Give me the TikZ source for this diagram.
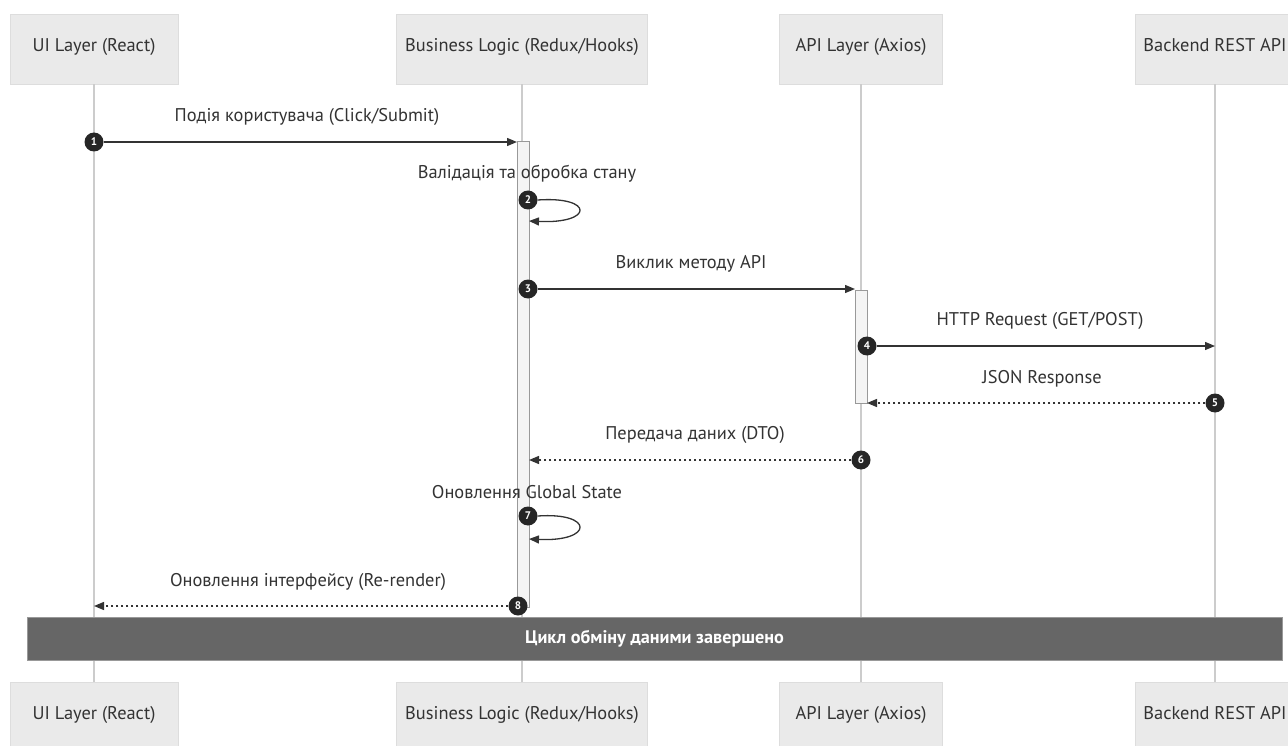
\documentclass[tikz,border=0pt]{standalone}
\usepackage{fontspec}
\setmainfont{PT Sans}
\usetikzlibrary{arrows.meta}
\definecolor{txt}{HTML}{333333}
\definecolor{actfill}{HTML}{EAEAEA}
\definecolor{actline}{HTML}{DDDDDD}
\definecolor{lifel}{HTML}{CCCCCC}
\definecolor{notefill}{HTML}{666666}
\definecolor{notebord}{HTML}{999999}
\definecolor{actbox}{HTML}{F4F4F4}
\begin{document}
\begin{tikzpicture}[x=1pt,y=-1pt,
  actor/.style={draw=actline, fill=actfill, minimum height=70pt, inner sep=0pt,
    font=\fontsize{18.4}{20}\selectfont, text=txt, text height=0.75em, text depth=0.22em},
  lifeline/.style={draw=lifel, line width=1.2pt},
  msg/.style={draw=txt, line width=1.3pt, -{Triangle[length=10pt,width=8pt]}},
  reply/.style={msg, dash pattern=on 2.5pt off 2.5pt},
  num/.style={circle, fill=black!85, minimum size=19pt, inner sep=0pt,
    text=white, font=\fontsize{11}{11}\selectfont\bfseries},
  lbl/.style={text=txt, font=\fontsize{18.4}{20}\selectfont, inner sep=0pt},
  activ/.style={draw=notebord, fill=actbox, line width=1pt},
  notebox/.style={draw=notebord, fill=notefill, text=white, line width=1pt,
    minimum width=1255pt, minimum height=43pt, inner sep=0pt,
    font=\fontsize{18.2}{19}\selectfont\bfseries}
]
\useasboundingbox (0,0) rectangle (1288,746);
\fill[white] (0,0) rectangle (1288,746);

% actors
\node[actor, minimum width=168pt] (a1) at (94,49) {UI Layer (React)};
\node[actor, minimum width=251pt] (a2) at (522,49) {Business Logic (Redux/Hooks)};
\node[actor, minimum width=163pt] (a3) at (861,49) {API Layer (Axios)};
\node[actor, minimum width=160pt] (a4) at (1215,49) {Backend REST API};
\node[actor, minimum width=168pt] (b1) at (94,717) {UI Layer (React)};
\node[actor, minimum width=251pt] (b2) at (522,717) {Business Logic (Redux/Hooks)};
\node[actor, minimum width=163pt] (b3) at (861,717) {API Layer (Axios)};
\node[actor, minimum width=160pt] (b4) at (1215,717) {Backend REST API};

% lifelines
\foreach \i in {1,2,3,4} \draw[lifeline] (a\i.south) -- (b\i.north);

% activations
\draw[activ] (517,142) rectangle (529,607);
\draw[activ] (855,290) rectangle (867,403);

% message end points
\coordinate (e1) at (517,142);
\coordinate (e2) at (529,221);
\coordinate (e3) at (855,289);
\coordinate (e4) at (1215,346);
\coordinate (e5) at (867,403);
\coordinate (e6) at (529,460);
\coordinate (e7) at (529,539);
\coordinate (e8) at (94,606);

% numbers
\node[num] (n1) at (94,142) {1};
\node[num] (n2) at (528,200) {2};
\node[num] (n3) at (528,289) {3};
\node[num] (n4) at (867,346) {4};
\node[num] (n5) at (1215,403) {5};
\node[num] (n6) at (861,460) {6};
\node[num] (n7) at (528,516) {7};
\node[num] (n8) at (518,606) {8};

% messages
\draw[msg] (n1) -- (e1);
\draw[msg] (n2.east) .. controls (594,196) and (594,224) .. (e2);
\draw[msg] (n3) -- (e3);
\draw[msg] (n4) -- (e4);
\draw[reply] (n5) -- (e5);
\draw[reply] (n6) -- (e6);
\draw[msg] (n7.east) .. controls (594,512) and (594,542) .. (e7);
\draw[reply] (n8) -- (e8);

% labels
\node[lbl] (l1) at (307,117) {Подія користувача (Click/Submit)};
\node[lbl] (l2) at (527,174) {Валідація та обробка стану};
\node[lbl] (l3) at (691,264) {Виклик методу API};
\node[lbl] (l4) at (1040,321) {HTTP Request (GET/POST)};
\node[lbl] (l5) at (1042,379) {JSON Response};
\node[lbl] (l6) at (695,435) {Передача даних (DTO)};
\node[lbl] (l7) at (527,492) {Оновлення Global State};
\node[lbl] (l8) at (308,582) {Оновлення інтерфейсу (Re-render)};

% note
\node[notebox] (note) at (654.5,638.5) {Цикл обміну даними завершено};
\end{tikzpicture}
\end{document}
